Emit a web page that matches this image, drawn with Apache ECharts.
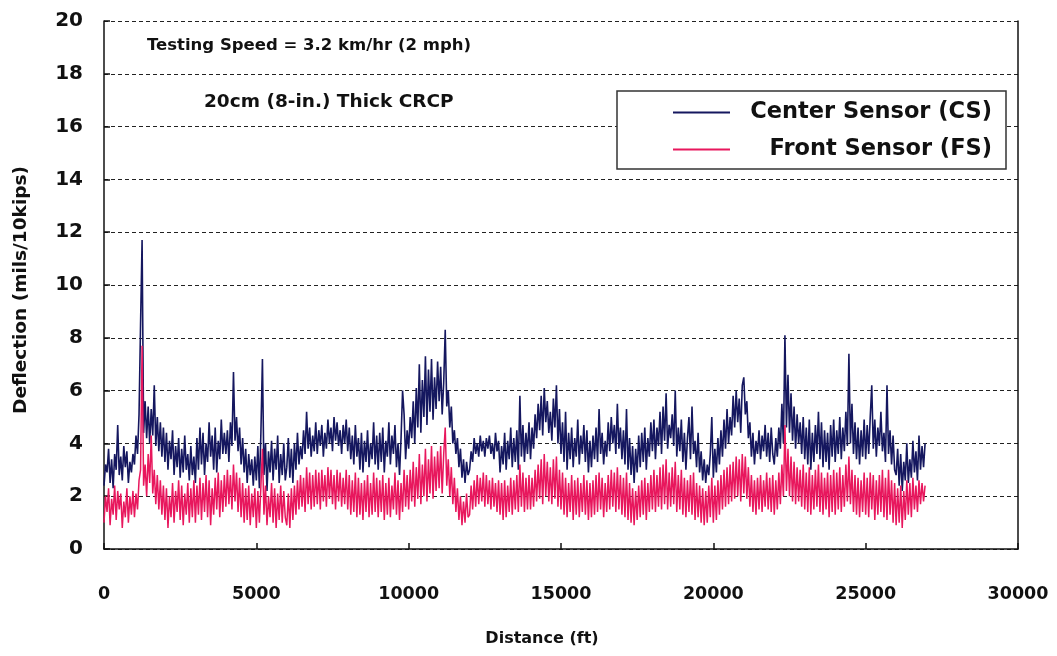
<!DOCTYPE html>
<html>
<head>
<meta charset="utf-8">
<script src="https://cdn.jsdelivr.net/npm/echarts@6/dist/echarts.min.js"></script>
<style>
html,body{margin:0;padding:0;background:#fff;}
#chart{width:1057px;height:656px;}
</style>
</head>
<body>
<div id="chart"></div>
<script>
// Sample spacing along the test section (ft)
const sampleSpacingFt = 50;

// Center Sensor (CS) deflection, mils/10kips, one value per 50 ft from 0 ft (one row = 1000 ft)
const centerSensor = [
  2.4,3.2,2.9,3.8,2.5,3.4,2.3,3.6,3.0,4.7,2.8,3.5,2.6,3.9,3.1,3.7,2.5,3.3,2.9,3.6,
  3.2,4.3,3.6,5.1,8.5,11.7,4.4,5.6,4.2,5.4,4.0,5.3,4.3,6.2,3.9,5.0,3.7,4.8,3.5,4.6,
  3.3,4.4,3.0,4.1,3.4,4.5,2.8,3.9,3.1,4.2,2.7,3.8,2.9,4.3,3.0,3.6,2.6,3.9,2.8,3.5,
  2.5,4.2,3.0,4.6,3.2,4.4,2.8,4.0,3.3,4.8,3.5,4.3,3.0,4.6,2.9,4.1,3.4,4.9,3.6,4.4,
  3.6,4.5,3.3,4.8,3.9,6.7,4.1,5.0,3.7,4.6,3.2,4.2,2.9,3.8,2.5,3.6,2.8,3.4,2.4,3.5,
  2.6,3.9,2.3,4.4,7.2,2.8,4.0,2.2,3.7,2.9,4.1,2.6,3.8,3.0,4.3,2.5,3.6,2.8,4.0,2.6,
  3.1,4.2,2.7,3.8,2.5,4.0,3.0,4.4,3.2,3.9,3.4,4.5,3.6,5.2,3.8,4.6,3.5,4.3,3.7,4.8,
  3.6,4.5,3.9,4.7,3.5,4.4,3.8,4.9,4.0,4.6,3.7,5.0,4.1,4.8,3.9,4.5,3.6,4.7,4.0,4.9,
  3.7,4.6,3.4,4.3,3.2,4.7,3.5,4.2,3.0,4.4,2.9,4.1,3.3,4.5,3.1,4.0,3.4,4.8,3.2,4.3,
  3.0,4.4,3.3,4.6,2.9,4.1,3.5,4.8,3.2,4.3,3.6,4.7,3.1,4.0,2.8,4.2,6.0,5.1,3.4,4.5,
  3.8,5.0,4.2,5.6,4.0,6.1,4.6,7.0,4.4,6.4,5.0,7.3,4.7,6.8,5.2,7.2,4.9,6.5,5.3,7.1,
  5.6,6.9,5.1,6.3,8.3,5.4,6.0,4.6,5.4,4.0,4.5,3.6,4.2,3.1,3.8,2.7,3.4,2.5,3.3,2.8,
  3.0,3.7,3.3,4.2,3.6,4.0,3.5,4.3,3.7,4.1,3.5,4.2,3.8,4.3,3.6,4.0,3.4,4.4,3.7,4.1,
  2.9,3.9,3.2,4.4,3.0,4.1,3.4,4.6,3.1,4.2,3.3,4.5,3.0,5.8,3.5,4.7,3.3,4.4,3.6,4.8,
  3.4,4.6,3.8,5.1,4.2,5.5,4.5,5.8,4.3,6.1,4.8,5.6,4.4,5.2,4.1,5.7,4.6,6.2,4.0,5.3,
  3.6,4.8,3.3,5.2,3.0,4.4,3.4,4.6,3.1,4.2,3.5,4.9,3.2,4.3,3.6,4.7,3.3,4.5,2.9,4.1,
  3.1,4.3,3.4,4.6,3.3,5.3,3.6,4.4,3.2,4.1,3.5,4.8,3.7,5.0,4.0,4.7,3.6,5.5,3.8,4.6,
  3.4,4.5,3.2,5.3,3.0,4.2,2.8,3.9,2.5,3.8,2.9,4.3,3.1,4.4,3.3,4.6,3.0,4.2,3.5,4.8,
  3.7,4.9,3.4,4.6,3.9,5.2,3.6,5.4,4.1,5.9,3.8,4.7,4.2,5.1,3.9,6.0,3.5,4.6,3.7,4.9,
  3.3,4.4,3.0,4.2,5.0,3.4,5.4,3.6,4.1,3.1,4.4,2.9,3.7,2.6,3.4,2.5,3.2,2.8,3.6,5.0,
  2.7,3.8,2.9,4.2,3.2,4.5,3.5,4.9,3.8,5.3,4.0,5.0,4.3,5.8,4.6,6.0,4.8,5.7,4.4,6.2,
  6.5,5.1,5.6,4.2,4.8,3.5,4.4,3.2,4.1,3.6,4.5,3.4,4.3,3.7,4.7,3.5,4.4,3.3,4.6,3.6,
  3.2,4.2,3.5,4.6,3.8,5.5,4.0,8.1,4.6,6.6,4.4,5.9,4.1,5.4,3.8,5.1,4.0,4.8,3.6,5.0,
  3.4,4.6,3.2,4.9,3.0,4.4,3.3,4.7,3.6,5.2,3.4,4.8,3.1,4.5,3.3,4.4,3.0,4.7,3.5,4.9,
  3.3,4.5,3.6,5.0,3.4,4.6,3.7,5.2,3.9,7.4,4.0,5.5,3.6,4.8,3.4,4.6,3.2,4.5,3.5,4.9,
  3.4,4.7,3.6,5.0,6.2,3.8,4.9,3.5,4.6,3.9,5.2,3.7,4.4,3.3,6.2,3.6,4.5,3.2,4.3,3.0,
  2.8,3.8,2.4,3.6,2.2,3.3,2.6,4.0,2.5,3.4,2.7,4.1,2.9,3.7,2.6,4.3,3.0,3.9,3.1,4.0
];

// Front Sensor (FS) deflection, mils/10kips, one value per 50 ft from 0 ft (one row = 1000 ft)
const frontSensor = [
  1.0,2.0,1.4,2.3,0.9,1.9,1.3,2.4,1.1,2.2,1.5,2.1,0.8,1.8,1.2,2.3,1.0,2.0,1.3,2.2,
  1.2,2.1,1.5,2.6,3.0,7.7,2.4,3.2,2.0,3.6,2.5,4.3,2.1,3.0,1.7,2.8,1.5,2.6,1.3,2.4,
  1.1,2.3,0.8,2.0,1.2,2.5,1.0,2.2,1.4,2.6,1.1,2.4,0.9,2.1,1.3,2.5,1.0,2.3,1.2,2.6,
  1.0,2.4,1.3,2.7,1.1,2.5,1.4,2.8,1.2,2.6,0.9,2.3,1.3,2.7,1.5,2.9,1.2,2.6,1.4,2.8,
  1.6,3.0,1.7,2.8,1.5,3.2,1.8,2.9,1.4,2.7,1.2,2.5,1.0,2.3,1.1,2.4,0.9,2.1,1.2,2.3,
  0.8,2.2,1.0,2.4,3.8,1.3,2.4,0.9,2.0,1.2,2.5,1.0,2.3,0.8,2.1,1.1,2.4,1.0,2.2,1.2,
  0.9,2.1,0.8,2.3,1.1,2.4,1.3,2.6,1.5,2.8,1.6,2.7,1.4,3.1,1.7,2.9,1.5,2.8,1.6,3.0,
  1.7,2.9,1.5,3.0,1.8,2.8,1.6,3.1,1.9,3.0,1.7,2.8,1.5,3.0,1.8,2.9,1.6,2.7,1.7,3.0,
  1.5,2.8,1.3,2.6,1.4,2.9,1.2,2.7,1.3,2.5,1.1,2.6,1.4,2.8,1.2,2.5,1.3,2.9,1.4,2.7,
  1.2,2.6,1.4,2.8,1.1,2.5,1.3,2.7,1.2,2.4,1.5,2.9,1.3,2.6,1.1,2.5,1.4,3.0,1.6,2.8,
  1.5,3.0,1.8,3.3,1.6,3.1,1.9,3.6,1.7,3.2,2.0,3.8,1.8,3.4,2.1,3.9,1.9,3.5,2.2,3.7,
  2.3,3.9,2.1,3.6,4.6,2.4,3.4,2.0,3.1,1.7,2.7,1.4,2.3,1.1,2.0,0.9,1.8,1.0,2.1,1.2,
  1.3,2.4,1.5,2.6,1.6,2.8,1.7,2.7,1.8,2.9,1.6,2.8,1.7,2.6,1.5,2.7,1.6,2.5,1.4,2.6,
  1.3,2.5,1.1,2.6,1.2,2.4,1.4,2.7,1.3,2.6,1.5,2.8,1.4,3.2,1.6,2.9,1.4,2.7,1.5,2.8,
  1.5,2.7,1.6,3.0,1.8,3.2,1.9,3.4,1.7,3.6,2.0,3.3,1.8,3.1,1.7,3.4,1.9,3.5,1.6,3.0,
  1.5,2.9,1.3,2.7,1.2,2.5,1.4,2.8,1.1,2.6,1.3,2.7,1.2,2.5,1.4,2.8,1.3,2.6,1.1,2.5,
  1.2,2.6,1.3,2.8,1.4,2.9,1.5,2.7,1.2,2.5,1.4,2.8,1.5,3.0,1.6,2.9,1.4,3.1,1.5,2.8,
  1.3,2.7,1.2,2.9,1.1,2.5,1.0,2.3,0.9,2.2,1.1,2.4,1.2,2.6,1.3,2.7,1.1,2.5,1.4,2.8,
  1.5,3.0,1.4,2.8,1.6,3.1,1.5,3.2,1.7,3.4,1.5,2.9,1.6,3.1,1.7,3.3,1.4,2.8,1.5,3.0,
  1.3,2.7,1.2,2.6,1.4,2.8,1.3,2.9,1.1,2.5,1.2,2.4,1.0,2.3,0.9,2.2,1.0,2.4,1.2,2.7,
  1.0,2.4,1.1,2.6,1.3,2.8,1.5,3.0,1.6,3.1,1.7,3.2,1.8,3.3,1.9,3.5,2.0,3.4,1.8,3.6,
  2.1,3.5,1.9,3.1,1.6,2.8,1.4,2.6,1.3,2.7,1.5,2.8,1.4,2.6,1.6,2.9,1.5,2.7,1.4,2.8,
  1.3,2.6,1.5,2.9,1.7,3.2,2.0,4.7,2.2,3.8,2.0,3.5,1.8,3.3,1.7,3.1,1.8,3.0,1.6,3.2,
  1.5,2.9,1.4,3.1,1.3,2.8,1.5,3.0,1.6,3.2,1.4,2.9,1.3,2.7,1.5,2.9,1.2,2.8,1.4,3.0,
  1.3,2.9,1.5,3.1,1.4,2.8,1.6,3.2,1.8,3.5,1.7,3.0,1.4,2.8,1.3,2.7,1.2,2.6,1.4,2.9,
  1.3,2.7,1.2,2.9,1.5,2.8,1.1,2.6,1.3,2.8,1.4,3.0,1.2,2.7,1.1,3.0,1.3,2.6,1.0,2.5,
  0.9,2.3,1.0,2.4,0.8,2.2,1.1,2.6,1.3,2.5,1.2,2.7,1.5,2.4,1.4,2.6,1.7,2.5,1.8,2.4
];

const seriesNames = ['Center Sensor (CS)', 'Front Sensor (FS)'];
const titleLines = ['Testing Speed = 3.2 km/hr (2 mph)', '20cm (8-in.) Thick CRCP'];
const xAxisName = 'Distance (ft)';
const yAxisName = 'Deflection (mils/10kips)';

function toPairs(values) {
  return values.map((v, i) => [i * sampleSpacingFt, v]);
}

const FONT = '"DejaVu Sans", "Liberation Sans", Arial, sans-serif';
const chart = echarts.init(document.getElementById('chart'), null, {renderer: 'canvas'});

chart.setOption({
  backgroundColor: '#ffffff',
  animation: false,
  grid: {left: 104, right: 39, top: 21, bottom: 107, containLabel: false},
  graphic: [
    {type: 'text', left: 147, top: 37, style: {text: titleLines[0], fill: '#111', font: 'bold 16.5px ' + FONT}},
    {type: 'text', left: 204, top: 93, style: {text: titleLines[1], fill: '#111', font: 'bold 18.5px ' + FONT}}
  ],
  legend: {
    data: seriesNames,
    orient: 'vertical',
    left: 617,
    top: 91,
    padding: [10, 14, 8, 56],
    itemGap: 14,
    itemWidth: 57,
    itemHeight: 14,
    icon: 'path://M0,6L57,6L57,8L0,8Z',
    borderColor: '#333',
    borderWidth: 1.5,
    backgroundColor: '#fff',
    formatter: name => '{r|' + name + '}',
    textStyle: {
      rich: {r: {width: 257, align: 'right', fontFamily: FONT, fontWeight: 'bold', fontSize: 22.5, color: '#111', lineHeight: 26}}
    }
  },
  xAxis: {
    type: 'value', min: 0, max: 30000, interval: 5000,
    name: xAxisName, nameLocation: 'middle', nameGap: 82,
    nameTextStyle: {fontFamily: FONT, fontWeight: 'bold', fontSize: 16, color: '#111', padding: [0, 38, 0, 0]},
    axisLine: {show: true, lineStyle: {color: '#111', width: 1.5}},
    axisTick: {show: true, inside: true, length: 6, lineStyle: {color: '#111', width: 1.5}},
    axisLabel: {margin: 36, fontFamily: FONT, fontWeight: 'bold', fontSize: 17.5, color: '#111', formatter: v => String(v)},
    splitLine: {show: false}
  },
  yAxis: [
    {
      type: 'value', min: 0, max: 20, interval: 2,
      name: yAxisName, nameLocation: 'middle', nameGap: 73, nameRotate: 90,
      nameTextStyle: {fontFamily: FONT, fontWeight: 'bold', fontSize: 18.5, color: '#111', padding: [0, 10, 0, 0]},
      axisLine: {show: true, lineStyle: {color: '#111', width: 1.5}},
      axisTick: {show: true, inside: true, length: 6, lineStyle: {color: '#111', width: 1.5}},
      axisLabel: {margin: 21, fontFamily: FONT, fontWeight: 'bold', fontSize: 20, color: '#111'},
      splitLine: {show: true, lineStyle: {color: '#222', width: 1, type: [4, 3]}}
    },
    {
      type: 'value', min: 0, max: 20, interval: 2, position: 'right',
      axisLine: {show: true, lineStyle: {color: '#111', width: 1.5}},
      axisTick: {show: false}, axisLabel: {show: false}, splitLine: {show: false}
    }
  ],
  series: [
    {
      name: seriesNames[0], type: 'line', data: toPairs(centerSensor),
      showSymbol: false, symbol: 'none', color: '#15175f',
      lineStyle: {width: 1.6, color: '#15175f'}
    },
    {
      name: seriesNames[1], type: 'line', data: toPairs(frontSensor),
      showSymbol: false, symbol: 'none', color: '#e8175d',
      lineStyle: {width: 1.5, color: '#e8175d'}
    }
  ]
});
</script>
</body>
</html>
